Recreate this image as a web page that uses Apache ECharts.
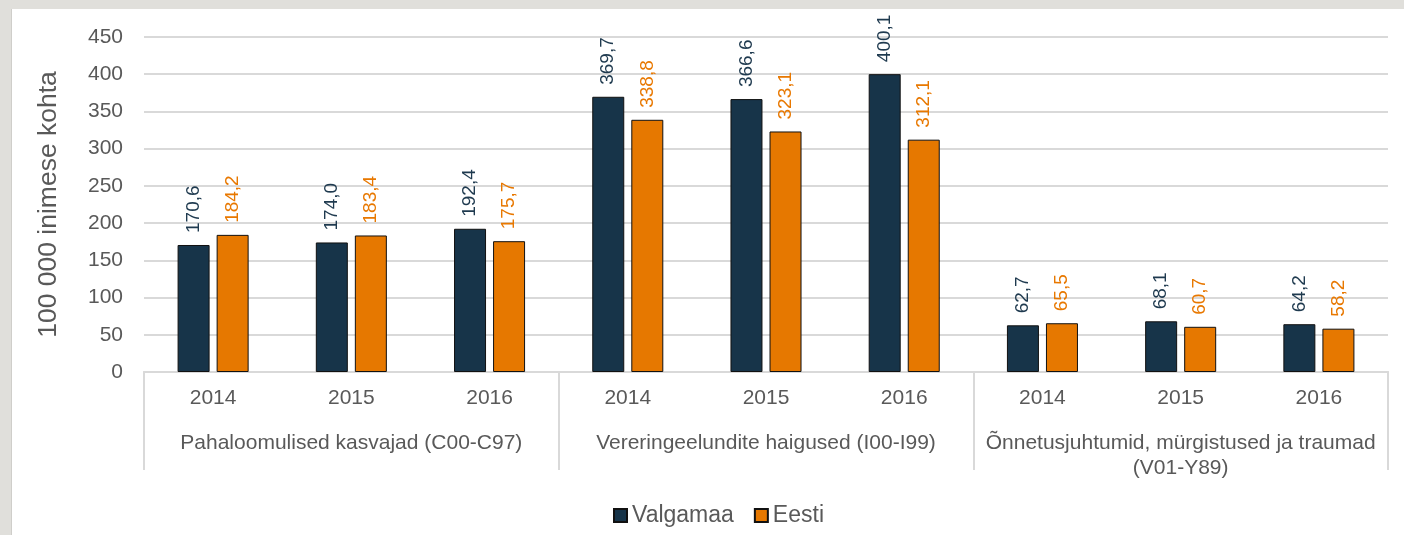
<!DOCTYPE html>
<html>
<head>
<meta charset="utf-8">
<script src="https://cdn.jsdelivr.net/npm/echarts@6/dist/echarts.min.js"></script>
<style>
    html, body { margin: 0; padding: 0; background: #e0dfdb; }
    #chart {
        position: absolute; left: 11px; top: 9px;
        width: 1392px; height: 526px;
        background: #fff; border-left: 1px solid #cfceca;
    }
</style>
</head>
<body>
<div id="chart"></div>
<script>
// aastad (esimene tase)
const years = ["2014", "2015", "2016", "2014", "2015", "2016", "2014", "2015", "2016"];
// haiguste grupid (teine tase)
const groups = [
    "Pahaloomulised kasvajad (C00-C97)",
    "Vereringeelundite haigused (I00-I99)",
    "Õnnetusjuhtumid, mürgistused ja traumad\n(V01-Y89)"
];
const valgamaa = [170.6, 174.0, 192.4, 369.7, 366.6, 400.1, 62.7, 68.1, 64.2];
const eesti = [184.2, 183.4, 175.7, 338.8, 323.1, 312.1, 65.5, 60.7, 58.2];
const yTicks = { min: 0, max: 450, interval: 50 };

const textColor = "#595959";
const gridColor = "#d9d9d9";
const font = "'Liberation Sans', Arial, sans-serif";

// koma komakohana
function fmt(p) {
    return p.value.toFixed(1).replace(".", ",");
}

function barSeries(name, data, color, labelColor) {
    return {
        name: name,
        type: "bar",
        data: data,
        barWidth: 32,
        barGap: "22%",
        itemStyle: { color: color, borderColor: "#111", borderWidth: 1 },
        label: {
            show: true,
            position: "top",
            rotate: 90,
            align: "left",
            verticalAlign: "middle",
            distance: 12,
            fontSize: 19,
            fontFamily: font,
            color: labelColor,
            formatter: fmt
        }
    };
}

let myChart = echarts.init(document.getElementById("chart"));
myChart.setOption({
    animation: false,
    textStyle: { fontFamily: font },
    grid: { left: 132, right: 16, top: 28, bottom: 163 },
    legend: {
        left: 596,
        top: 490,
        itemWidth: 13,
        itemHeight: 13,
        itemGap: 20,
        icon: "rect",
        textStyle: { fontSize: 23, color: textColor, fontFamily: font },
        data: ["Valgamaa", "Eesti"]
    },
    xAxis: [
        {
            type: "category",
            position: "bottom",
            data: years,
            axisLine: { lineStyle: { color: gridColor, width: 2 } },
            axisTick: { show: false },
            axisLabel: { fontSize: 21, color: textColor, margin: 16, interval: 0 }
        },
        {
            type: "category",
            position: "bottom",
            data: groups,
            axisLine: { lineStyle: { color: gridColor, width: 2 } },
            axisTick: { show: true, length: 98, interval: 0, lineStyle: { color: gridColor, width: 2 } },
            axisLabel: { fontSize: 21, color: textColor, margin: 59, interval: 0, lineHeight: 25 }
        }
    ],
    yAxis: {
        type: "value",
        min: yTicks.min,
        max: yTicks.max,
        interval: yTicks.interval,
        name: "100 000 inimese kohta",
        nameLocation: "middle",
        nameGap: 82,
        nameTextStyle: { fontSize: 26.5, color: textColor },
        axisLine: { show: false },
        axisTick: { show: false },
        axisLabel: { fontSize: 21, color: textColor, margin: 21 },
        splitLine: { lineStyle: { color: gridColor, width: 2 } }
    },
    series: [
        barSeries("Valgamaa", valgamaa, "#173449", "#1f3a4f"),
        barSeries("Eesti", eesti, "#e67800", "#e87800")
    ]
});
</script>
</body>
</html>
